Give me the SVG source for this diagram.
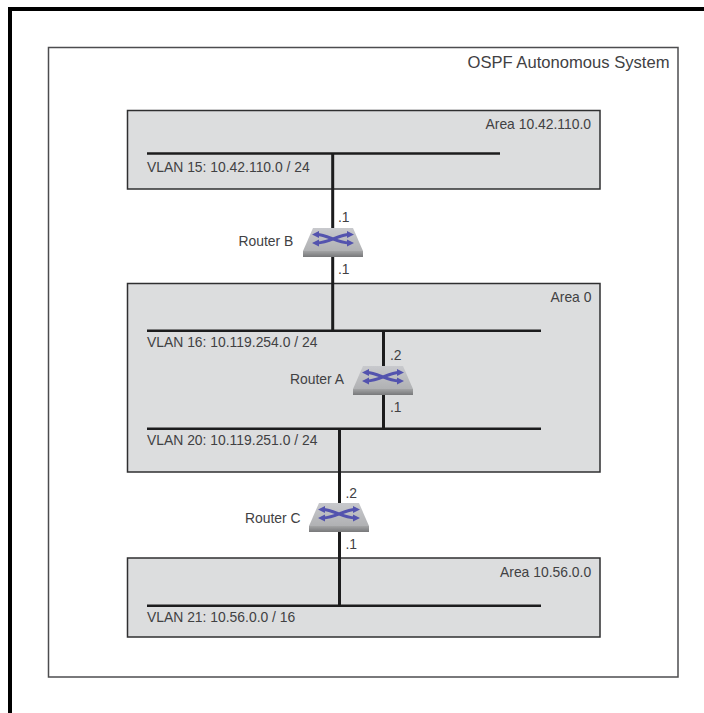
<svg xmlns="http://www.w3.org/2000/svg" width="704" height="713" viewBox="0 0 704 713">
<style>
text{font-family:"Liberation Sans",Arial,sans-serif;font-size:13.9px;fill:#414143}
.title{font-size:16.600px}
.area{fill:#dcddde;stroke:#2f2f30;stroke-width:1.500}
.net{stroke:#1c1c1d;stroke-width:2.500;fill:none}
.drop{stroke:#1c1c1d;stroke-width:3;fill:none}
.ar{fill:none;stroke:#5252ae;stroke-width:3}
</style>
<defs>
<linearGradient id="top" x1="0" y1="0" x2="0" y2="1"><stop offset="0" stop-color="#c8c9cd"/><stop offset="1" stop-color="#b0b1b3"/></linearGradient>
<linearGradient id="front" x1="0" y1="0" x2="0" y2="1"><stop offset="0" stop-color="#a3a4a5"/><stop offset="1" stop-color="#77787a"/></linearGradient>
<filter id="soft" x="-10%" y="-10%" width="120%" height="120%"><feGaussianBlur stdDeviation="0.700"/></filter>
<g id="router" filter="url(#soft)">
<path d="M-30 23 H30 V29 H-30 Z" fill="url(#front)"/>
<path d="M-30 23 L-20 0 H20 L30 23 Z" fill="url(#top)"/>
<path class="ar" d="M-16 6.500 C-6 6.500 4 15 16 15 M-16 15 C-4 15 6 6.500 16 6.500"/>
<path d="M21 6.500 L14 3 V10 Z M21 15 L14 11.500 V18.500 Z M-21 6.500 L-14 3 V10 Z M-21 15 L-14 11.500 V18.500 Z" fill="#5252ae"/>
</g>
</defs>
<rect width="704" height="713" fill="#fff"/>
<path d="M10 713 V9 H704" fill="none" stroke="#000" stroke-width="4"/>
<g id="as"><rect x="48.500" y="47.500" width="629.500" height="629.500" fill="#fff" stroke="#4d4d4f" stroke-width="1.500"/><text class="title" x="467.500" y="68">OSPF Autonomous System</text></g>
<g id="area-110"><rect class="area" x="127.500" y="110.500" width="472.500" height="78.500"/><text x="485.500" y="129">Area 10.42.110.0</text></g>
<g id="area-0"><rect class="area" x="127.500" y="283.500" width="472.500" height="188.500"/><text x="550.500" y="302">Area 0</text></g>
<g id="area-56"><rect class="area" x="127.500" y="558" width="472.500" height="79"/><text x="500" y="577">Area 10.56.0.0</text></g>
<g id="connectors">
<path class="net" d="M147 153.500 H500 M147 330.700 H541 M147 428.700 H541 M147 605.700 H541"/>
<path class="drop" d="M332.700 153.500 V330.700 M383.500 330.700 V428.700 M339.500 428.700 V605.700"/>
</g>
<g id="vlan-labels">
<text x="147" y="171.500">VLAN 15: 10.42.110.0 / 24</text>
<text x="147" y="346.500">VLAN 16: 10.119.254.0 / 24</text>
<text x="147" y="445">VLAN 20: 10.119.251.0 / 24</text>
<text x="147" y="622">VLAN 21: 10.56.0.0 / 16</text>
</g>
<g id="router-b"><use href="#router" x="333" y="228"/><text x="238.500" y="246">Router B</text><text x="338" y="222">.1</text><text x="338" y="274">.1</text></g>
<g id="router-a"><use href="#router" x="383" y="366"/><text x="290" y="384">Router A</text><text x="390" y="360">.2</text><text x="390" y="412">.1</text></g>
<g id="router-c"><use href="#router" x="339" y="503"/><text x="245" y="523">Router C</text><text x="345.500" y="498">.2</text><text x="345.500" y="549">.1</text></g>
</svg>
